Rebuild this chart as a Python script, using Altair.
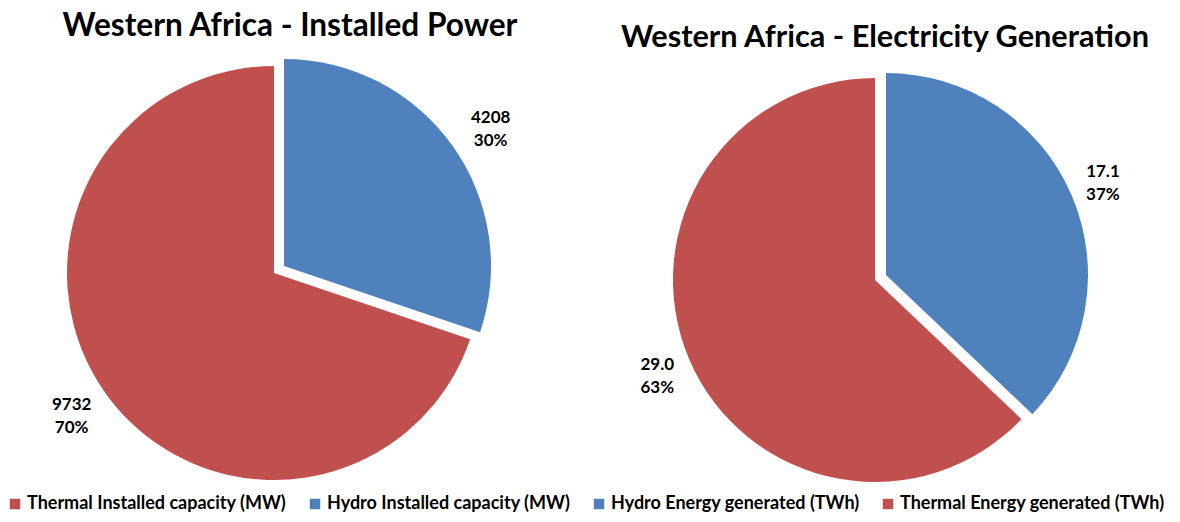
import altair as alt
import pandas as pd

TITLE_1 = "Western Africa - Installed Power"
TITLE_2 = "Western Africa - Electricity Generation"

pie1_categories = ["Hydro Installed capacity (MW)", "Thermal Installed capacity (MW)"]
pie1_kinds = ["Hydro", "Thermal"]
pie1_values = [4208, 9732]

pie2_categories = ["Hydro Energy generated (TWh)", "Thermal Energy generated (TWh)"]
pie2_kinds = ["Hydro", "Thermal"]
pie2_values = [17.1, 29.0]

legend_order = [
    "Thermal Installed capacity (MW)",
    "Hydro Installed capacity (MW)",
    "Hydro Energy generated (TWh)",
    "Thermal Energy generated (TWh)",
]
RED = "#C0504D"
BLUE = "#4F81BD"
legend_colors = [RED, BLUE, BLUE, RED]

FONT = "Lato"


def make_df(cats, kinds, vals, fmt):
    total = sum(vals)
    labels = [f"{v:{fmt}}\n{round(100 * v / total)}%" for v in vals]
    return pd.DataFrame({
        "category": cats,
        "kind": kinds,
        "value": vals,
        "ord": list(range(len(vals))),
        "label": labels,
    })


df1 = make_df(pie1_categories, pie1_kinds, pie1_values, ".0f")
df2 = make_df(pie2_categories, pie2_kinds, pie2_values, ".1f")

color_scale = alt.Scale(domain=legend_order, range=legend_colors)
legend = alt.Legend(
    orient="none", legendX=-2, legendY=487, direction="horizontal",
    title=None, symbolType="square", symbolSize=110, symbolStrokeWidth=0,
    labelFont=FONT, labelFontWeight="bold", labelFontSize=18, labelColor="black",
    columnPadding=19, labelOffset=3, labelLimit=400,
)


def show(kind):
    return alt.condition(f"datum.kind === '{kind}'", alt.value(1), alt.value(0))


def pie_layers(df, cx, cy, r, dx, dy, lr_h, lr_t, off_h, off_t):
    theta = alt.Theta("value:Q", stack=True)
    order = alt.Order("ord:Q")
    color = alt.Color("category:N", scale=color_scale, legend=legend)
    thermal = alt.Chart(df).mark_arc(outerRadius=r).encode(
        theta=theta, order=order, color=color,
        x=alt.value(cx), y=alt.value(cy), opacity=show("Thermal"))
    hydro = alt.Chart(df).mark_arc(outerRadius=r).encode(
        theta=theta, order=order, color=color,
        x=alt.value(cx + dx), y=alt.value(cy + dy), opacity=show("Hydro"))
    txt = dict(font=FONT, fontWeight="bold", fontSize=17, lineBreak="\n",
               lineHeight=23, align="center", baseline="middle", color="black")
    lab_h = alt.Chart(df).mark_text(radius=lr_h, dx=off_h[0], dy=off_h[1], **txt).encode(
        theta=theta, order=order, detail="category:N", text="label:N",
        x=alt.value(cx + dx), y=alt.value(cy + dy), opacity=show("Hydro"))
    lab_t = alt.Chart(df).mark_text(radius=lr_t, dx=off_t[0], dy=off_t[1], **txt).encode(
        theta=theta, order=order, detail="category:N", text="label:N",
        x=alt.value(cx), y=alt.value(cy), opacity=show("Thermal"))
    return [thermal, hydro, lab_h, lab_t]


def title_layer(text, x, y, size):
    return alt.Chart(pd.DataFrame({"t": [text]})).mark_text(
        font=FONT, fontWeight="bold", fontSize=size, color="black",
        align="center", baseline="middle").encode(
        text="t:N", x=alt.value(x), y=alt.value(y))


layers = (
    pie_layers(df1, 266, 265, 207, 10, -7, 247, 249, (6, -4), (0, -13))
    + pie_layers(df2, 867, 272, 202, 11, -5, 235, 238, (1, -10), (1, -9))
    + [title_layer(TITLE_1, 282, 19, 31.6), title_layer(TITLE_2, 877, 30, 30.7)]
)

chart = alt.layer(*layers).resolve_scale(theta="independent").properties(
    width=1164, height=506, padding=0, background="white",
    autosize=alt.AutoSizeParams(type="fit", contains="padding"),
).configure_view(strokeWidth=0)

chart.save("out.html", embed_options={"renderer": "svg", "actions": False})
